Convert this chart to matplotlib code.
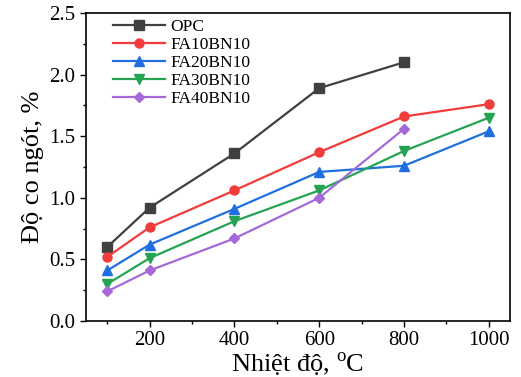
import matplotlib
matplotlib.use("Agg")
import matplotlib.pyplot as plt
from matplotlib.ticker import MultipleLocator

temps = [100, 200, 400, 600, 800, 1000]
opc = [0.60, 0.92, 1.36, 1.89, 2.10]
fa10 = [0.52, 0.76, 1.06, 1.37, 1.66, 1.76]
fa20 = [0.41, 0.62, 0.91, 1.21, 1.26, 1.54]
fa30 = [0.30, 0.51, 0.81, 1.06, 1.38, 1.65]
fa40 = [0.24, 0.41, 0.67, 1.00, 1.56]

plt.rcParams['font.family'] = ['Liberation Serif', 'DejaVu Serif']
plt.rcParams['mathtext.fontset'] = 'custom'
plt.rcParams['mathtext.rm'] = 'Liberation Serif'

fig = plt.figure(figsize=(5.21, 3.77), dpi=100)
ax = fig.add_axes([86/521, 1 - 321/377, (510-86)/521, (321-13)/377])

series = [
    ("OPC", opc, "#404040", "s"),
    ("FA10BN10", fa10, "#f23b3b", "o"),
    ("FA20BN10", fa20, "#1f6fe0", "^"),
    ("FA30BN10", fa30, "#24a452", "v"),
    ("FA40BN10", fa40, "#a56ad8", "D"),
]
for name, vals, col, mk in series:
    ms = 5.5 if mk == "D" else 6.5
    ax.plot(temps[:len(vals)], vals, color=col, marker=mk, ms=ms, lw=1.6, label=name)

ax.set_xlim(50, 1050)
ax.set_ylim(0, 2.5)
ax.xaxis.set_major_locator(MultipleLocator(200))
ax.xaxis.set_minor_locator(MultipleLocator(100))
ax.yaxis.set_major_locator(MultipleLocator(0.5))
ax.yaxis.set_minor_locator(MultipleLocator(0.25))
ax.yaxis.set_major_formatter(matplotlib.ticker.FormatStrFormatter('%.1f'))
ax.tick_params(which='both', direction='out', labelsize=15, width=1)
ax.tick_params(which='major', length=4)
ax.tick_params(which='minor', length=2.5)
for s in ax.spines.values():
    s.set_linewidth(1.2)

ax.set_xlabel("Nhiệt độ, $^{\\mathrm{o}}$C", fontsize=19, labelpad=0)
ax.set_ylabel("Độ co ngót, %", fontsize=19, labelpad=4)

ax.legend(loc='upper left', bbox_to_anchor=(0.035, 1.02), frameon=False,
          fontsize=12.5, handlelength=3.0, labelspacing=0.1,
          borderaxespad=0.3, handletextpad=0.3)

fig.savefig("out.png", dpi=100)
